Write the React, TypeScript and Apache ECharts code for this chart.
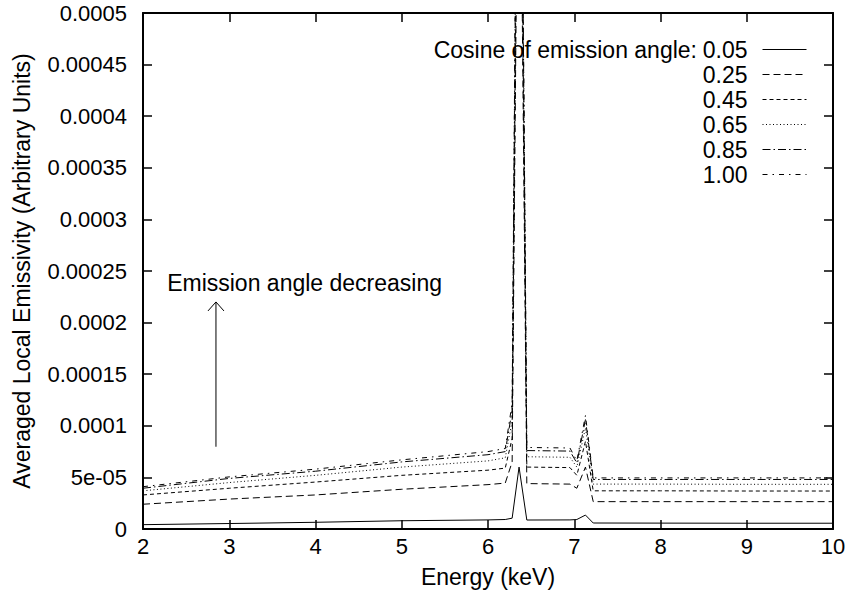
import React, { useEffect, useRef } from "react";
import * as echarts from "echarts";

// Energy grid (keV)
const energy = [2, 3, 4, 5, 6, 6.2, 6.28, 6.36, 6.45, 6.95, 7.03, 7.13, 7.22, 8, 9, 10];

// Averaged local emissivity for each cosine of emission angle
const cos005 = [4.2e-6, 5.3e-6, 6.5e-6, 8.0e-6, 8.8e-6, 9.2e-6, 1.05e-5, 6.0e-5, 8.7e-6, 8.8e-6, 9.2e-6, 1.35e-5, 5.8e-6, 5.7e-6, 5.6e-6, 5.6e-6];
const cos025 = [2.4e-5, 2.9e-5, 3.3e-5, 3.85e-5, 4.3e-5, 4.45e-5, 6.5e-5, 8.2e-4, 4.4e-5, 4.35e-5, 3.95e-5, 6.0e-5, 2.65e-5, 2.65e-5, 2.65e-5, 2.65e-5];
const cos045 = [3.3e-5, 3.95e-5, 4.55e-5, 5.2e-5, 5.7e-5, 5.9e-5, 8.8e-5, 8.8e-4, 6.0e-5, 5.95e-5, 5.2e-5, 8.5e-5, 3.7e-5, 3.7e-5, 3.68e-5, 3.68e-5];
const cos065 = [3.7e-5, 4.5e-5, 5.2e-5, 6.0e-5, 6.6e-5, 6.9e-5, 1.05e-4, 9.3e-4, 7.0e-5, 6.95e-5, 6.0e-5, 9.8e-5, 4.35e-5, 4.35e-5, 4.33e-5, 4.33e-5];
const cos085 = [3.95e-5, 4.9e-5, 5.6e-5, 6.5e-5, 7.2e-5, 7.5e-5, 1.15e-4, 9.8e-4, 7.6e-5, 7.55e-5, 6.4e-5, 1.06e-4, 4.8e-5, 4.8e-5, 4.8e-5, 4.8e-5];
const cos100 = [4.1e-5, 5.05e-5, 5.8e-5, 6.7e-5, 7.5e-5, 7.8e-5, 1.22e-4, 1.0e-3, 7.9e-5, 7.85e-5, 6.6e-5, 1.1e-4, 4.95e-5, 4.95e-5, 4.95e-5, 4.95e-5];

const seriesNames = ["0.05", "0.25", "0.45", "0.65", "0.85", "1.00"];
const seriesValues = [cos005, cos025, cos045, cos065, cos085, cos100];

const yTickLabels = ["0", "5e-05", "0.0001", "0.00015", "0.0002", "0.00025", "0.0003", "0.00035", "0.0004", "0.00045", "0.0005"];

const legendTitle = "Cosine of emission angle:";
const noteText = "Emission angle decreasing";
// annotation position (data coordinates)
const notePos = [2.28, 2.385e-4];
const arrowFrom = [2.846, 7.97e-5];
const arrowTo = [2.846, 2.2e-4];

const dashStyles: any[] = ["solid", [7, 4], [4, 3], [1, 2.5], [8, 3, 1.5, 3], [5, 5, 1.5, 5]];

const FONT = "Liberation Sans";

export default function App() {
  const ref = useRef<HTMLDivElement>(null);
  useEffect(() => {
    if (!ref.current) return;
    const chart = echarts.init(ref.current, undefined, { renderer: "svg" });
    const axisLineStyle = { color: "#000", width: 2 };
    const tickStyle = { color: "#000", width: 1.5 };
    const option: any = {
      animation: false,
      backgroundColor: "#fff",
      textStyle: { fontFamily: FONT, color: "#000" },
      grid: { left: 143, right: 17, top: 13, bottom: 66, containLabel: false },
      legend: {
        orient: "vertical",
        right: 43,
        top: 38,
        padding: 0,
        itemGap: 2,
        itemWidth: 44,
        itemHeight: 14,
        align: "right",
        selectedMode: false,
        data: seriesNames,
        itemStyle: { opacity: 0, borderWidth: 0 },
        lineStyle: { width: 1 },
        textStyle: { fontFamily: FONT, fontSize: 23, color: "#000", lineHeight: 22, padding: [0, 10, 0, 0] },
      },
      xAxis: [
        {
          type: "value",
          min: 2,
          max: 10,
          interval: 1,
          name: "Energy (keV)",
          nameLocation: "middle",
          nameGap: 36,
          nameTextStyle: { fontFamily: FONT, fontSize: 23, color: "#000" },
          axisLine: { show: true, onZero: false, lineStyle: axisLineStyle },
          axisTick: { show: true, inside: true, length: 9, lineStyle: tickStyle },
          axisLabel: { fontFamily: FONT, fontSize: 22, color: "#000", margin: 6 },
          splitLine: { show: false },
        },
        {
          type: "value",
          position: "top",
          min: 2,
          max: 10,
          interval: 1,
          axisLine: { show: true, onZero: false, lineStyle: axisLineStyle },
          axisTick: { show: true, inside: true, length: 9, lineStyle: tickStyle },
          axisLabel: { show: false },
          splitLine: { show: false },
        },
      ],
      yAxis: [
        {
          type: "value",
          min: 0,
          max: 0.0005,
          interval: 0.00005,
          name: "Averaged Local Emissivity (Arbitrary Units)",
          nameLocation: "middle",
          nameGap: 110,
          nameTextStyle: { fontFamily: FONT, fontSize: 23, color: "#000" },
          axisLine: { show: true, onZero: false, lineStyle: axisLineStyle },
          axisTick: { show: true, inside: true, length: 9, lineStyle: tickStyle },
          axisLabel: {
            fontFamily: FONT,
            fontSize: 22,
            color: "#000",
            margin: 16,
            formatter: (v: number) => yTickLabels[Math.round(v / 0.00005)] ?? "",
          },
          splitLine: { show: false },
        },
        {
          type: "value",
          position: "right",
          min: 0,
          max: 0.0005,
          interval: 0.00005,
          axisLine: { show: true, onZero: false, lineStyle: axisLineStyle },
          axisTick: { show: true, inside: true, length: 9, lineStyle: tickStyle },
          axisLabel: { show: false },
          splitLine: { show: false },
        },
      ],
      series: seriesNames.map((name, i) => ({
        name,
        type: "line",
        xAxisIndex: 0,
        yAxisIndex: 0,
        symbol: "none",
        clip: true,
        data: energy.map((e, j) => [e, seriesValues[i][j]]),
        lineStyle: { color: "#000", width: 1, type: dashStyles[i] },
        itemStyle: { color: "#000" },
      })),
    };
    chart.setOption(option);

    const p = (pt: number[]) => chart.convertToPixel({ xAxisIndex: 0, yAxisIndex: 0 }, pt) as number[];
    const a0 = p(arrowFrom);
    const a1 = p(arrowTo);
    const t = p(notePos);
    chart.setOption({
      graphic: [
        {
          type: "text",
          x: 697,
          y: 50,
          style: { text: legendTitle, fontFamily: FONT, fontSize: 23, fill: "#000", align: "right", verticalAlign: "middle" },
        },
        {
          type: "text",
          x: t[0],
          y: t[1],
          style: { text: noteText, fontFamily: FONT, fontSize: 23, fill: "#000", align: "left", verticalAlign: "middle" },
        },
        {
          type: "line",
          shape: { x1: a0[0], y1: a0[1], x2: a1[0], y2: a1[1] },
          style: { stroke: "#000", lineWidth: 1 },
        },
        {
          type: "polyline",
          shape: { points: [[a1[0] - 8, a1[1] + 9], [a1[0], a1[1]], [a1[0] + 8, a1[1] + 9]] },
          style: { stroke: "#000", lineWidth: 1, fill: "none" },
        },
      ],
    });
    return () => chart.dispose();
  }, []);
  return <div ref={ref} style={{ width: 850, height: 595, position: "absolute", left: 0, top: 0 }} />;
}
